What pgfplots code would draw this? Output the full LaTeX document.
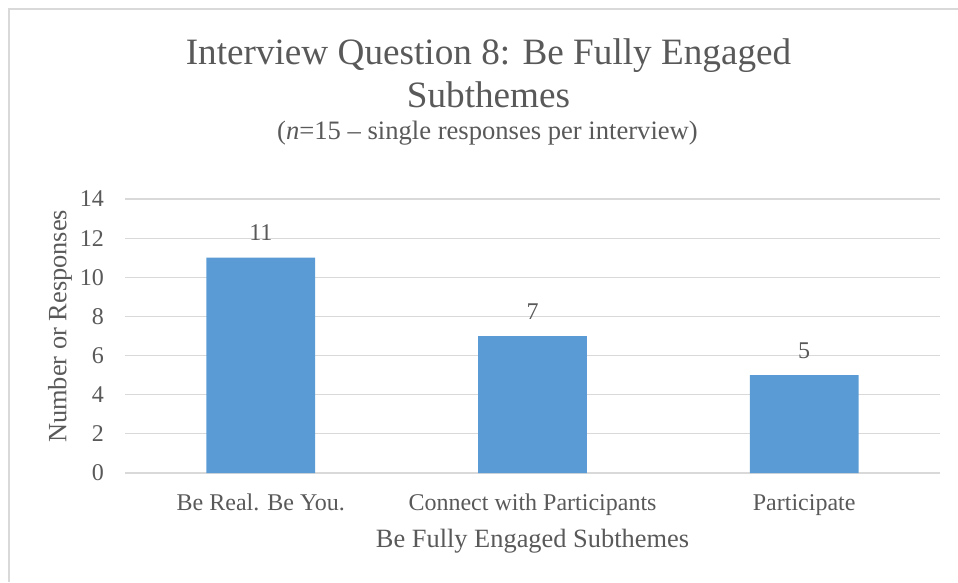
\documentclass[border=0pt]{standalone}
\usepackage{pgfplots}
\pgfplotsset{compat=1.18}
\usepackage{fontspec}
\setmainfont{Liberation Serif}
\definecolor{txt}{HTML}{595959}
\definecolor{gridc}{HTML}{D9D9D9}
\definecolor{barc}{HTML}{5B9BD5}
\begin{document}
\begin{tikzpicture}
\useasboundingbox (0pt,0pt) rectangle (958pt,582pt);
\draw[gridc,line width=1.5pt] (9pt,0pt) -- (9pt,573pt) -- (958pt,573pt);
\node[txt,font=\fontsize{37.2}{40}\selectfont,anchor=base] at (488.5pt,517pt) {Interview Question 8: Be Fully Engaged};
\node[txt,font=\fontsize{37.2}{40}\selectfont,anchor=base] at (488.5pt,474pt) {Subthemes};
\node[txt,font=\fontsize{26.6}{28}\selectfont,anchor=base] at (487.5pt,442pt) {(\textit{n}=15 -- single responses per interview)};
\begin{axis}[
  at={(125pt,109pt)}, anchor=south west,
  scale only axis, width=815pt, height=274pt,
  xmin=-0.5, xmax=2.5, ymin=0, ymax=14,
  ytick={0,2,...,14},
  xtick={0,1,2},
  xticklabels={Be Real. Be You.,Connect with Participants,Participate},
  ymajorgrids, grid style={gridc,line width=1.2pt},
  axis line style={draw=none},
  major tick length=0pt,
  tick label style={txt,font=\fontsize{24}{26}\selectfont,inner sep=0pt},
  /pgf/number format/assume math mode=true,
  yticklabel style={anchor=east,xshift=-21pt},
  xticklabel style={anchor=base,yshift=-37pt},
  xlabel={Be Fully Engaged Subthemes},
  ylabel={Number or Responses},
  xlabel style={txt,font=\fontsize{26.4}{28}\selectfont,at={(axis description cs:0.5,0)},anchor=base,yshift=-74pt},
  ylabel style={txt,font=\fontsize{26.4}{28}\selectfont,at={(axis description cs:-0.0798,0.535)},anchor=center},
  ybar, bar width=108.7pt,
  nodes near coords,
  every node near coord/.append style={txt,font=\fontsize{24}{26}\selectfont,anchor=base,inner sep=0pt,yshift=17pt},
]
\addplot[fill=barc,draw=none] coordinates {(0,11) (1,7) (2,5)};
\end{axis}
\end{tikzpicture}
\end{document}
